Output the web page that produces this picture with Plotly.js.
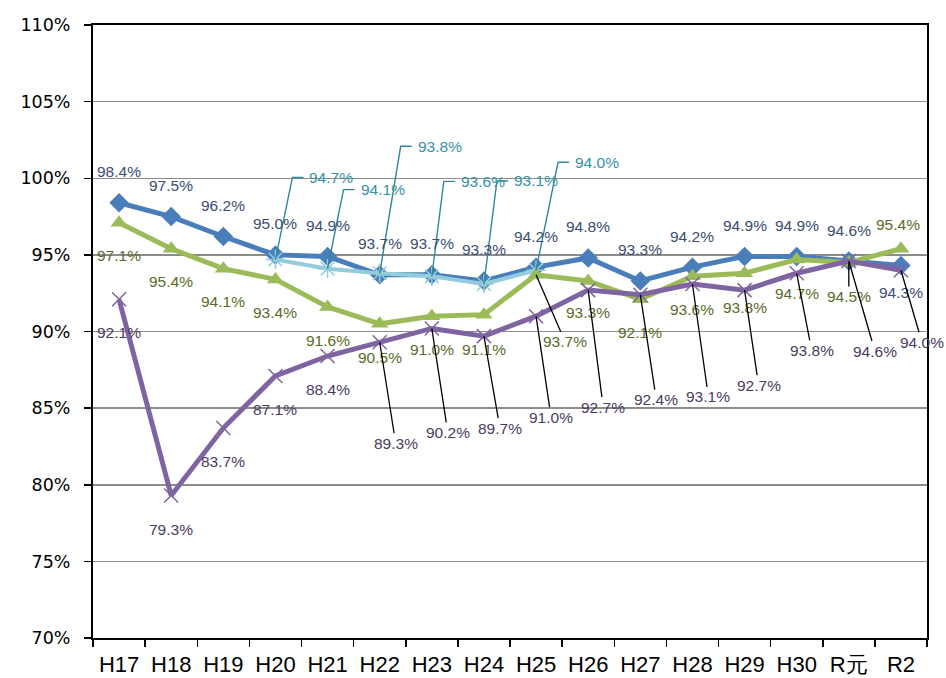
<!DOCTYPE html>
<html>
<head>
<meta charset="utf-8">
<script src="https://cdn.plot.ly/plotly-3.0.1.min.js"></script>
<style>
html,body{margin:0;padding:0;background:#fff;}
#chart{width:946px;height:678px;}
</style>
</head>
<body>
<div id="chart"></div>
<script>
// ---- data ----
const categories = ['H17','H18','H19','H20','H21','H22','H23','H24','H25','H26','H27','H28','H29','H30','R元','R2'];
const seriesBlue   = [98.4,97.5,96.2,95.0,94.9,93.7,93.7,93.3,94.2,94.8,93.3,94.2,94.9,94.9,94.6,94.3];
const seriesLight  = [null,null,null,94.7,94.1,93.8,93.6,93.1,94.0,null,null,null,null,null,null,null];
const seriesGreen  = [97.1,95.4,94.1,93.4,91.6,90.5,91.0,91.1,93.7,93.3,92.1,93.6,93.8,94.7,94.5,95.4];
const seriesPurple = [92.1,79.3,83.7,87.1,88.4,89.3,90.2,89.7,91.0,92.7,92.4,93.1,92.7,93.8,94.6,94.0];
const yTicks = [70,75,80,85,90,95,100,105,110];

// ---- styles / label placement (pixels) ----
const C = {
  blue:'#4A7EBB', light:'#93CDDD', green:'#9BBB59', purple:'#8064A2',
  blueTxt:'#3A4D72', lightTxt:'#3592A6', greenTxt:'#5A6B29', purpleTxt:'#4A3B62'
};
const LBL_FONT = 'Liberation Sans, Arial, sans-serif';
// blue: shift up (positive) / down (negative)
const blueShift = [31,31,31,31,31,31,31,31,31,31,31,31,31,31,31,-27];
// green: [dx, dy(down), leader]
const greenPlace = [[0,33,0],[0,33,0],[0,33,0],[0,33,0],[0,34,0],[0,34,0],[0,33,0],[0,35,0],
  [29,67,1],[0,32,0],[0,33,0],[0,33,0],[0,34,0],[0,34,0],[0,34,1],[-3,-24,0]];
const purplePlace = [[0,33,0],[0,34,0],[0,33,0],[0,34,0],[0,33,0],[16,101,1],[16,104,1],[16,92,1],
  [15,101,1],[15,117,1],[16,105,1],[16,113,1],[14,95,1],[15,77,1],[26,90,1],[21,72,1]];
// light-blue leader corner: [dx, up]
const lightPlace = [null,null,null,[17,82],[16,79],[21,127],[12,95],[13,103],[22,108]];

const fmt = v => v.toFixed(1) + '%';

const traces = [
  {x:categories, y:seriesBlue, type:'scatter', mode:'lines+markers', name:'A',
   line:{color:C.blue,width:5}, marker:{symbol:'diamond',size:15,color:C.blue}},
  {x:categories, y:seriesLight, type:'scatter', mode:'lines+markers', name:'B',
   line:{color:C.light,width:4}, marker:{symbol:'asterisk-open',size:16,color:C.light,line:{color:C.light,width:1.5}}},
  {x:categories, y:seriesGreen, type:'scatter', mode:'lines+markers', name:'C',
   line:{color:C.green,width:5}, marker:{symbol:'triangle-up',size:15,color:C.green}},
  {x:categories, y:seriesPurple, type:'scatter', mode:'lines+markers', name:'D',
   line:{color:C.purple,width:5}, marker:{symbol:'x-thin-open',size:14,color:C.purple,line:{color:C.purple,width:1.5}}}
];

const annotations = [];
const shapes = [];
const font = (c) => ({family:LBL_FONT, size:15.5, color:c});

seriesBlue.forEach((v,i) => {
  annotations.push({x:categories[i], y:v, xref:'x', yref:'y', text:fmt(v), showarrow:false,
    yshift:blueShift[i], xanchor:'center', yanchor:'middle', font:font(C.blueTxt)});
});
seriesGreen.forEach((v,i) => {
  const p = greenPlace[i];
  if (p[2]) {
    annotations.push({x:categories[i], y:v, xref:'x', yref:'y', text:fmt(v), showarrow:true,
      ax:p[0], ay:p[1], arrowhead:0, arrowwidth:1.3, arrowcolor:'#000', standoff:0,
      xanchor:'center', yanchor:'middle', font:font(C.greenTxt)});
  } else {
    annotations.push({x:categories[i], y:v, xref:'x', yref:'y', text:fmt(v), showarrow:false,
      xshift:p[0], yshift:-p[1], xanchor:'center', yanchor:'middle', font:font(C.greenTxt)});
  }
});
seriesPurple.forEach((v,i) => {
  const p = purplePlace[i];
  if (p[2]) {
    annotations.push({x:categories[i], y:v, xref:'x', yref:'y', text:fmt(v), showarrow:true,
      ax:p[0], ay:p[1], arrowhead:0, arrowwidth:1.3, arrowcolor:'#000', standoff:0,
      xanchor:'center', yanchor:'middle', font:font(C.purpleTxt)});
  } else {
    annotations.push({x:categories[i], y:v, xref:'x', yref:'y', text:fmt(v), showarrow:false,
      xshift:p[0], yshift:-p[1], xanchor:'center', yanchor:'middle', font:font(C.purpleTxt)});
  }
});
seriesLight.forEach((v,i) => {
  if (v === null) return;
  const p = lightPlace[i];
  shapes.push({type:'path', xref:'x', yref:'y', xsizemode:'pixel', ysizemode:'pixel',
    xanchor:i, yanchor:v,
    path:'M0,0 L' + p[0] + ',' + p[1] + ' L' + (p[0]+11) + ',' + p[1],
    line:{color:'#2F8799', width:1.4}, layer:'above'});
  annotations.push({x:categories[i], y:v, xref:'x', yref:'y', text:fmt(v), showarrow:false,
    xshift:p[0]+15, yshift:p[1], xanchor:'left', yanchor:'middle', font:font(C.lightTxt)});
});

const layout = {
  width:946, height:678,
  margin:{l:93, r:19, t:25, b:40},
  paper_bgcolor:'#fff', plot_bgcolor:'#fff',
  showlegend:false,
  xaxis:{type:'category', range:[-0.5,15.5], showline:true, mirror:true, linecolor:'#000', linewidth:2,
    ticks:'outside', tickson:'boundaries', ticklen:7, tickwidth:1.5, tickcolor:'#000',
    showgrid:false, zeroline:false, ticklabelstandoff:6, tickangle:0,
    tickfont:{family:'Liberation Sans, Arial, sans-serif', size:22, color:'#000'}},
  yaxis:{range:[70,110], tickvals:yTicks, ticktext:yTicks.map(t=>t+'%'),
    showline:true, mirror:true, linecolor:'#000', linewidth:2,
    ticks:'outside', ticklen:7, tickwidth:1.5, tickcolor:'#000',
    showgrid:true, gridcolor:'#8C8C8C', gridwidth:1.5, zeroline:false, ticklabelstandoff:10,
    tickfont:{family:'DejaVu Sans, sans-serif', size:17.5, color:'#000'}},
  annotations:annotations,
  shapes:shapes
};

Plotly.newPlot('chart', traces, layout, {displayModeBar:false, staticPlot:true});
</script>
</body>
</html>
